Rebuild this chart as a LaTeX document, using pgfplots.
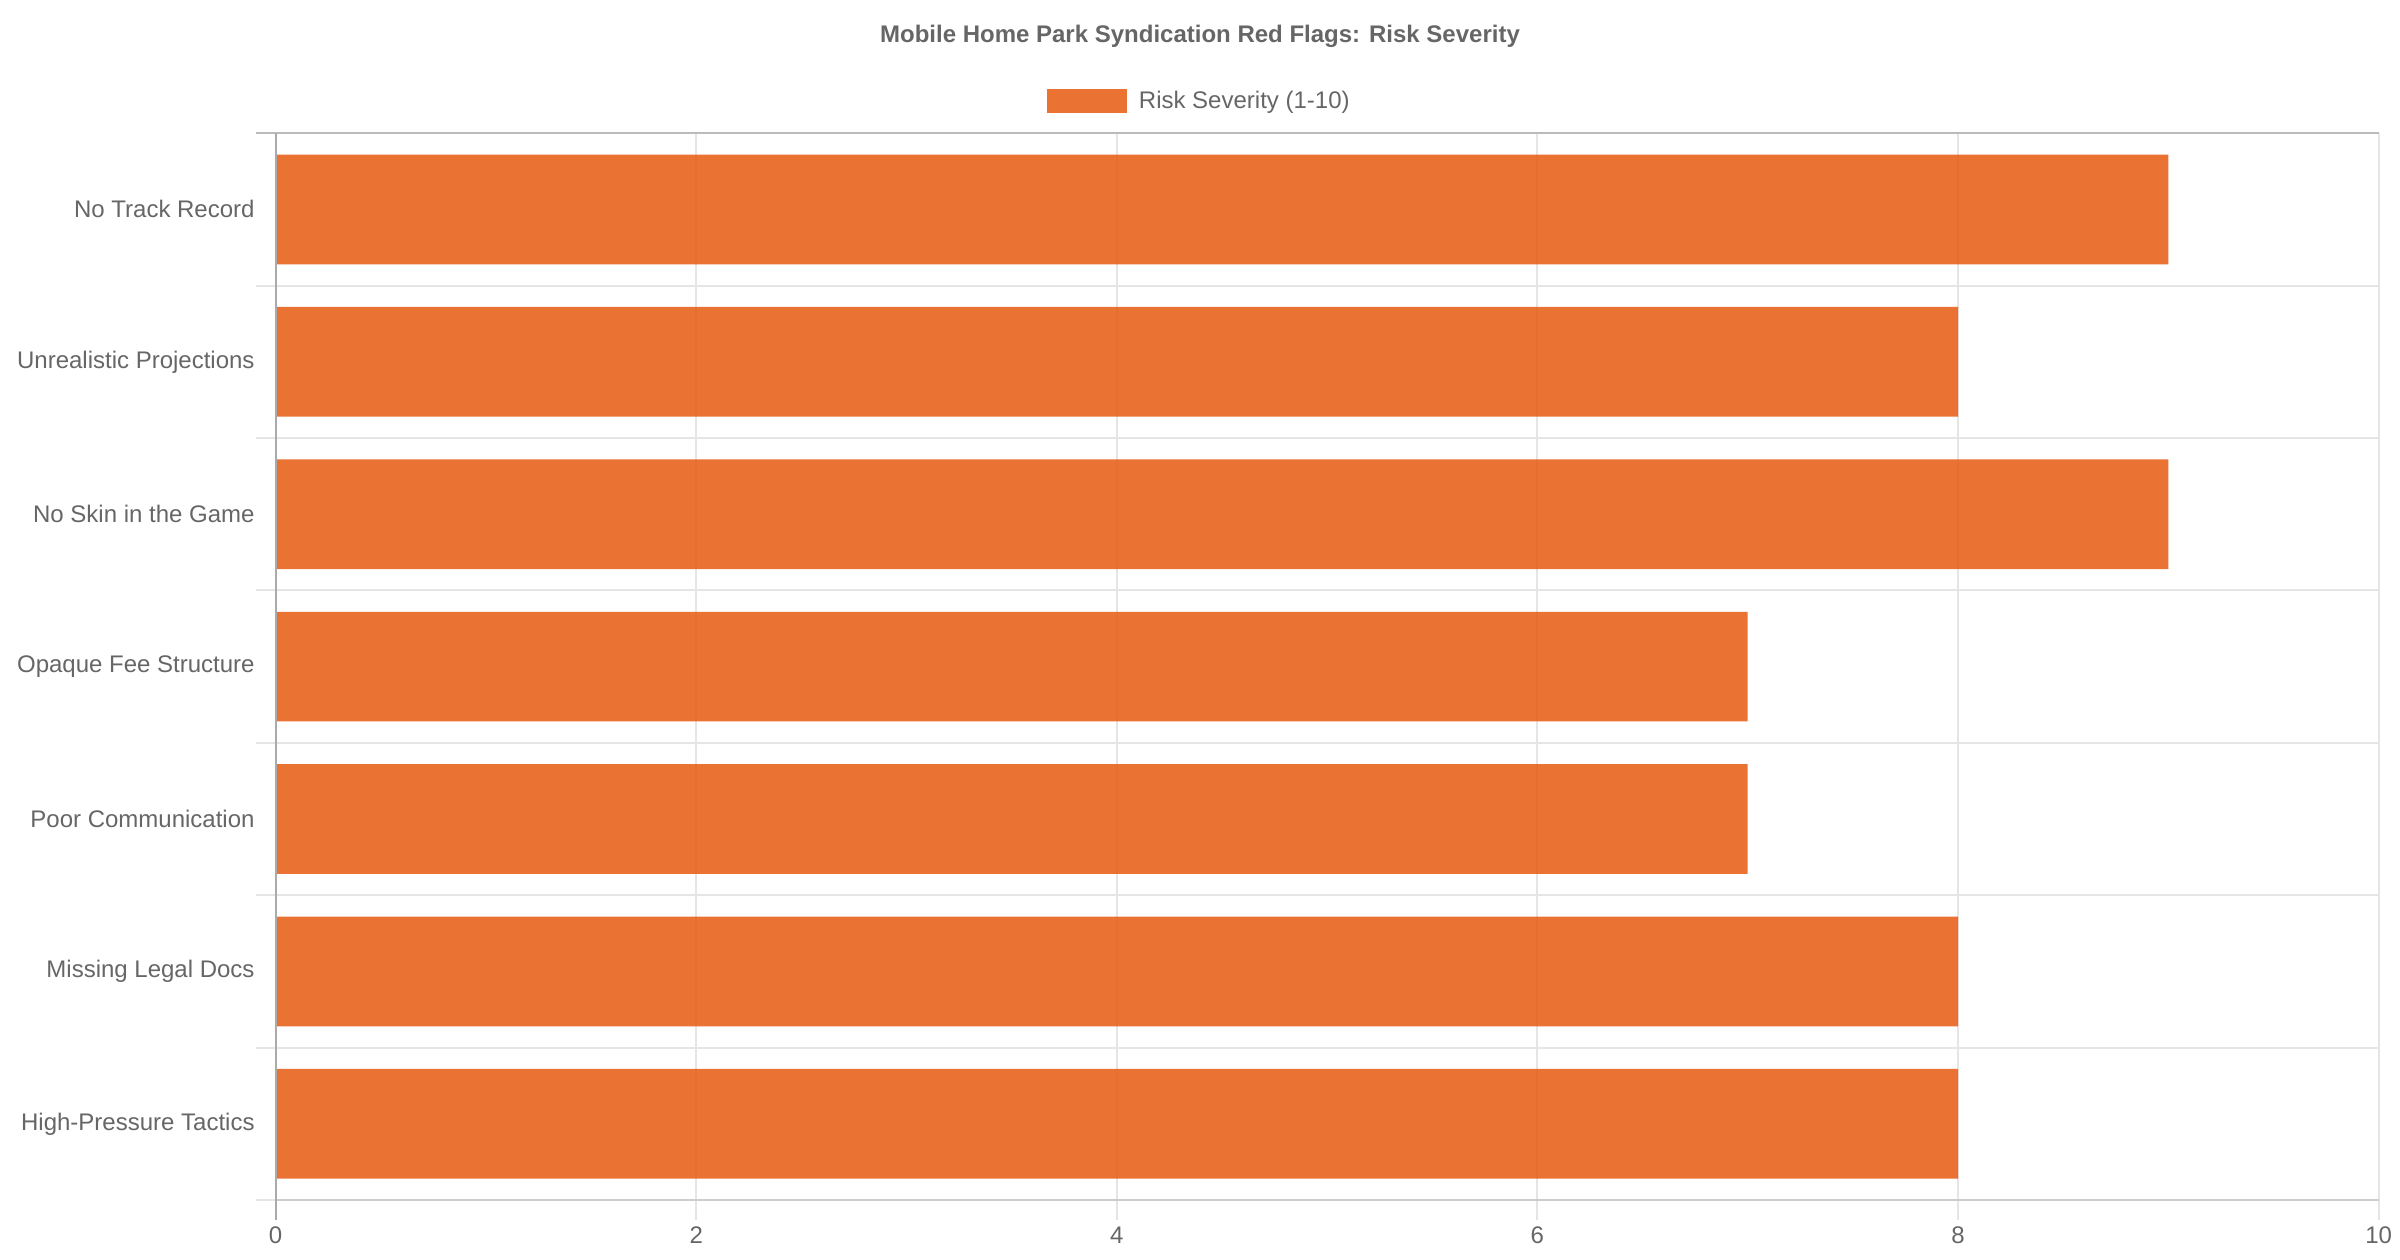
\documentclass[border=0pt]{standalone}
\usepackage{pgfplots}
\pgfplotsset{compat=1.18}
\usepackage{fontspec}
\setmainfont{Liberation Sans}
\definecolor{txt}{HTML}{666666}
\definecolor{gridc}{HTML}{E5E5E5}
\definecolor{topc}{HTML}{BBBBBB}
\definecolor{leftc}{HTML}{AAAAAA}
\definecolor{botc}{HTML}{CCCCCC}
\definecolor{barc}{RGB}{230,91,16}
\begin{document}
\begin{tikzpicture}
\path[use as bounding box] (-137.8bp,-30bp) rectangle (1062.2bp,600bp);
\begin{axis}[
  at={(0bp,0bp)}, anchor=south west,
  width=1051.5bp, height=533.4bp, scale only axis,
  xmin=0, xmax=10, ymin=-0.5, ymax=6.5, y dir=reverse,
  clip=false,
  axis line style={draw=none},
  xtick={0,2,4,6,8,10},
  ytick={0,1,2,3,4,5,6},
  xtick pos=bottom, ytick pos=left,
  yticklabels={{No Track Record},{Unrealistic Projections},{No Skin in the Game},{Opaque Fee Structure},{Poor Communication},{Missing Legal Docs},{High-Pressure Tactics}},
  tick align=outside,
  major tick length=10bp,
  xtick style={draw=gridc, line width=1bp},
  ytick style={draw=none},
  xmajorgrids,
  major grid style={draw=gridc, line width=1bp},
  extra y ticks={-0.5,0.5,1.5,2.5,3.5,4.5,5.5,6.5},
  extra y tick labels={},
  extra y tick style={grid=major, major grid style={draw=gridc, line width=1bp}, ytick style={draw=gridc, line width=1bp}, ytick pos=left},
  /pgf/number format/assume math mode=true,
  tick label style={font=\fontsize{12bp}{14bp}\selectfont, text=txt},
  yticklabel style={xshift=3bp},
  legend style={at={(0.4396,1.030)}, anchor=center, draw=none, fill=none, inner sep=0pt,
    font=\fontsize{12bp}{14bp}\selectfont, text=txt,
    /tikz/every odd column/.append style={column sep=4.2bp}},
  legend image code/.code={\fill[barc, fill opacity=0.85] (0bp,-6bp) rectangle (40bp,6bp);},
]
\addplot[xbar, bar width=0.72, bar shift=0pt, fill=barc, fill opacity=0.85, draw=none]
  coordinates {(9,0) (8,1) (9,2) (7,3) (7,4) (8,5) (8,6)};
\addlegendentry{Risk Severity (1-10)}
\draw[topc, line width=1bp] ([xshift=-10bp]axis cs:0,-0.5) -- (axis cs:10,-0.5);
\draw[botc, line width=1bp] (axis cs:0,6.5) -- (axis cs:10,6.5);
\draw[leftc, line width=1bp] (axis cs:0,-0.5) -- ([yshift=-10bp]axis cs:0,6.5);
\end{axis}
\node[font=\bfseries\fontsize{12bp}{14bp}\selectfont, text=txt] at (462.2bp,581.7bp) {Mobile Home Park Syndication Red Flags: Risk Severity};
\end{tikzpicture}
\end{document}
